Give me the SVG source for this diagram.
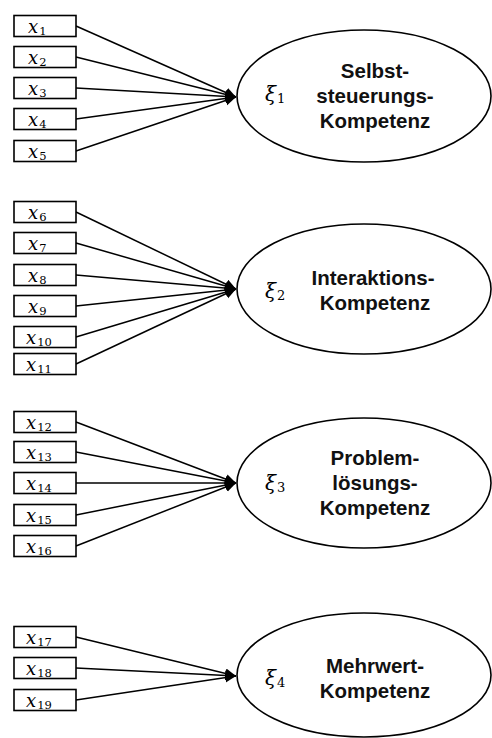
<svg xmlns="http://www.w3.org/2000/svg" width="492" height="738" viewBox="0 0 492 738">
  <style>
    .ind rect { fill: #fff; stroke: #000; stroke-width: 1.6; }
    .ind text { font-family: "DejaVu Serif", "Liberation Serif", serif; fill: #000; }
    .xv { font-style: italic; font-size: 18px; }
    .sub { font-style: normal; font-size: 11.5px; }
    .lat ellipse { fill: #fff; stroke: #000; stroke-width: 1.6; }
    .lat .name { font-family: "Liberation Sans", Arial, sans-serif; font-weight: bold; font-size: 20.5px; text-anchor: middle; fill: #111; }
    .lat .xi { font-family: "DejaVu Serif", "Liberation Serif", serif; font-style: italic; font-size: 20px; fill: #000; }
    .lat .xisub { font-family: "DejaVu Serif", "Liberation Serif", serif; font-style: normal; font-size: 13px; fill: #000; }
    .conn line { stroke: #000; stroke-width: 1.5; marker-end: url(#arrow); }
  </style>
  <defs>
    <marker id="arrow" markerUnits="userSpaceOnUse" markerWidth="12" markerHeight="12" refX="11" refY="5" orient="auto">
      <path d="M0,0 L11,5 L0,10 z" fill="#000"/>
    </marker>
  </defs>

  <rect width="492" height="738" fill="#fff"/>

  <!-- connectors: indicators to latent constructs -->
  <g id="connectors" class="conn">
    <line x1="76" y1="26" x2="236" y2="97"/>
    <line x1="76" y1="57" x2="236" y2="97"/>
    <line x1="76" y1="88" x2="236" y2="97"/>
    <line x1="76" y1="119" x2="236" y2="97"/>
    <line x1="76" y1="151" x2="236" y2="97"/>

    <line x1="76" y1="212" x2="236" y2="289"/>
    <line x1="76" y1="243" x2="236" y2="289"/>
    <line x1="76" y1="275" x2="236" y2="289"/>
    <line x1="76" y1="306" x2="236" y2="289"/>
    <line x1="76" y1="337" x2="236" y2="289"/>
    <line x1="76" y1="364" x2="236" y2="289"/>

    <line x1="76" y1="422" x2="236" y2="483"/>
    <line x1="76" y1="452" x2="236" y2="483"/>
    <line x1="76" y1="483" x2="236" y2="483"/>
    <line x1="76" y1="515" x2="236" y2="483"/>
    <line x1="76" y1="546" x2="236" y2="483"/>

    <line x1="76" y1="637" x2="236" y2="676"/>
    <line x1="76" y1="668" x2="236" y2="676"/>
    <line x1="76" y1="700" x2="236" y2="676"/>
  </g>

  <!-- indicator boxes -->
  <g id="x1" class="ind"><rect x="14" y="15.5" width="62" height="21"/><text x="28" y="33"><tspan class="xv">x</tspan><tspan class="sub" dx="1" dy="2">1</tspan></text></g>
  <g id="x2" class="ind"><rect x="14" y="46.5" width="62" height="21"/><text x="28" y="64"><tspan class="xv">x</tspan><tspan class="sub" dx="1" dy="2">2</tspan></text></g>
  <g id="x3" class="ind"><rect x="14" y="77.5" width="62" height="21"/><text x="28" y="95"><tspan class="xv">x</tspan><tspan class="sub" dx="1" dy="2">3</tspan></text></g>
  <g id="x4" class="ind"><rect x="14" y="108.5" width="62" height="21"/><text x="28" y="126"><tspan class="xv">x</tspan><tspan class="sub" dx="1" dy="2">4</tspan></text></g>
  <g id="x5" class="ind"><rect x="14" y="140.5" width="62" height="21"/><text x="28" y="158"><tspan class="xv">x</tspan><tspan class="sub" dx="1" dy="2">5</tspan></text></g>

  <g id="x6" class="ind"><rect x="14" y="201.5" width="62" height="21"/><text x="28" y="219"><tspan class="xv">x</tspan><tspan class="sub" dx="1" dy="2">6</tspan></text></g>
  <g id="x7" class="ind"><rect x="14" y="232.5" width="62" height="21"/><text x="28" y="250"><tspan class="xv">x</tspan><tspan class="sub" dx="1" dy="2">7</tspan></text></g>
  <g id="x8" class="ind"><rect x="14" y="264.5" width="62" height="21"/><text x="28" y="282"><tspan class="xv">x</tspan><tspan class="sub" dx="1" dy="2">8</tspan></text></g>
  <g id="x9" class="ind"><rect x="14" y="295.5" width="62" height="21"/><text x="28" y="313"><tspan class="xv">x</tspan><tspan class="sub" dx="1" dy="2">9</tspan></text></g>
  <g id="x10" class="ind"><rect x="14" y="326.5" width="62" height="21"/><text x="26" y="344"><tspan class="xv">x</tspan><tspan class="sub" dx="1" dy="2">10</tspan></text></g>
  <g id="x11" class="ind"><rect x="14" y="353.5" width="62" height="21"/><text x="26" y="371"><tspan class="xv">x</tspan><tspan class="sub" dx="1" dy="2">11</tspan></text></g>

  <g id="x12" class="ind"><rect x="14" y="411.5" width="62" height="21"/><text x="26" y="429"><tspan class="xv">x</tspan><tspan class="sub" dx="1" dy="2">12</tspan></text></g>
  <g id="x13" class="ind"><rect x="14" y="441.5" width="62" height="21"/><text x="26" y="459"><tspan class="xv">x</tspan><tspan class="sub" dx="1" dy="2">13</tspan></text></g>
  <g id="x14" class="ind"><rect x="14" y="472.5" width="62" height="21"/><text x="26" y="490"><tspan class="xv">x</tspan><tspan class="sub" dx="1" dy="2">14</tspan></text></g>
  <g id="x15" class="ind"><rect x="14" y="504.5" width="62" height="21"/><text x="26" y="522"><tspan class="xv">x</tspan><tspan class="sub" dx="1" dy="2">15</tspan></text></g>
  <g id="x16" class="ind"><rect x="14" y="535.5" width="62" height="21"/><text x="26" y="553"><tspan class="xv">x</tspan><tspan class="sub" dx="1" dy="2">16</tspan></text></g>

  <g id="x17" class="ind"><rect x="14" y="626.5" width="62" height="21"/><text x="26" y="644"><tspan class="xv">x</tspan><tspan class="sub" dx="1" dy="2">17</tspan></text></g>
  <g id="x18" class="ind"><rect x="14" y="657.5" width="62" height="21"/><text x="26" y="675"><tspan class="xv">x</tspan><tspan class="sub" dx="1" dy="2">18</tspan></text></g>
  <g id="x19" class="ind"><rect x="14" y="689.5" width="62" height="21"/><text x="26" y="707"><tspan class="xv">x</tspan><tspan class="sub" dx="1" dy="2">19</tspan></text></g>

  <!-- latent constructs -->
  <g id="xi1" class="lat">
    <ellipse cx="364" cy="96" rx="127" ry="66"/>
    <text class="xi" x="265" y="101">ξ<tspan class="xisub" dx="1" dy="2">1</tspan></text>
    <text class="name" x="375" y="78">Selbst-</text>
    <text class="name" x="375" y="103">steuerungs-</text>
    <text class="name" x="375" y="128">Kompetenz</text>
  </g>
  <g id="xi2" class="lat">
    <ellipse cx="364" cy="289" rx="127" ry="65"/>
    <text class="xi" x="265" y="298">ξ<tspan class="xisub" dx="1" dy="2">2</tspan></text>
    <text class="name" x="373" y="285">Interaktions-</text>
    <text class="name" x="375" y="310">Kompetenz</text>
  </g>
  <g id="xi3" class="lat">
    <ellipse cx="364" cy="483" rx="127" ry="65"/>
    <text class="xi" x="265" y="490">ξ<tspan class="xisub" dx="1" dy="2">3</tspan></text>
    <text class="name" x="375" y="465">Problem-</text>
    <text class="name" x="375" y="490">lösungs-</text>
    <text class="name" x="375" y="515">Kompetenz</text>
  </g>
  <g id="xi4" class="lat">
    <ellipse cx="364" cy="675" rx="127" ry="62"/>
    <text class="xi" x="265" y="685">ξ<tspan class="xisub" dx="1" dy="2">4</tspan></text>
    <text class="name" x="375" y="673">Mehrwert-</text>
    <text class="name" x="375" y="698">Kompetenz</text>
  </g>
</svg>
